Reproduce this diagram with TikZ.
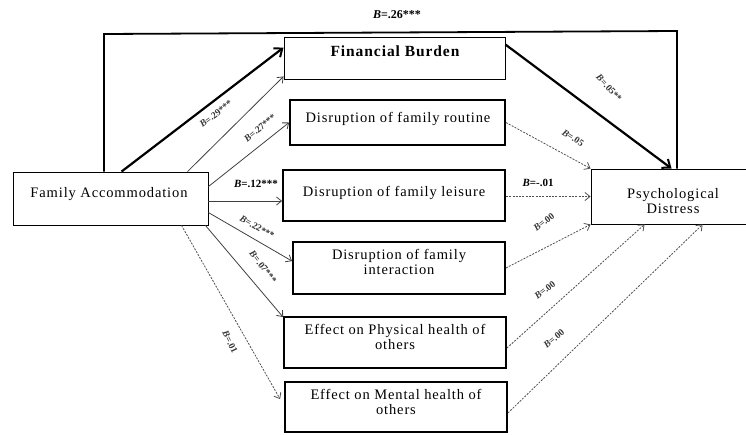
\documentclass[tikz,border=0pt]{standalone}
\usepackage{fontspec}
\setmainfont{Liberation Serif}
\newfontfamily\boxfont{Liberation Serif}[LetterSpace=6]
\usetikzlibrary{arrows.meta}
\definecolor{arrgray}{HTML}{404040}
\definecolor{dashgray}{HTML}{505050}
\definecolor{labgray}{HTML}{333333}
\tikzset{
  thinbox/.style={draw, line width=0.9pt, inner sep=0pt},
  boldbox/.style={draw, line width=1.8pt, inner sep=0pt},
  boxtext/.style={font=\boxfont\fontsize{14.5}{15.5}\selectfont, align=center, inner sep=0pt},
  thickarr/.style={line width=2.2pt, -{Straight Barb[length=7pt,width=11pt,line width=2pt]}},
  thinarr/.style={line width=0.8pt, arrgray, -{Straight Barb[length=5pt,width=8pt]}},
  dasharr/.style={line width=0.8pt, dashgray, dash pattern=on 2pt off 1.3pt, -{Straight Barb[length=5pt,width=8pt,line width=0.8pt]}},
  coef/.style={font=\fontsize{9.5}{10}\selectfont\bfseries, text=labgray, inner sep=0pt},
  coefh/.style={font=\fontsize{11}{12}\selectfont\bfseries, text=black, inner sep=0pt},
  bigline/.style={line width=1.8pt}
}
\newcommand{\bb}{\textit{B}}
\begin{document}
\begin{tikzpicture}[x=1pt,y=-1pt]
\useasboundingbox (0,0) rectangle (746,434);

% boxes
\node[thinbox, minimum width=195pt, minimum height=53pt] (fa) at (110.5,198.5) {};
\node[boxtext] (fat) at (109,194) {Family Accommodation};

\node[thinbox, minimum width=221pt, minimum height=42pt] (fb) at (394.5,58) {};
\node[boxtext, font=\boxfont\fontsize{15.5}{16}\selectfont\bfseries] (fbt) at (395,51) {Financial Burden};

\node[boldbox, minimum width=215pt, minimum height=45pt] (rout) at (397.5,122.5) {};
\node[boxtext] (routt) at (398,119) {Disruption of family routine};

\node[boldbox, minimum width=222pt, minimum height=51pt] (leis) at (394,195.5) {};
\node[boxtext] (leist) at (394,193) {Disruption of family leisure};

\node[boldbox, minimum width=212pt, minimum height=52pt] (inter) at (399,268) {};
\node[boxtext] (intert) at (399,262) {Disruption of family\\interaction};

\node[boldbox, minimum width=222pt, minimum height=51pt] (phys) at (395,342.5) {};
\node[boxtext] (physt) at (395,337) {Effect on Physical health of\\others};

\node[boldbox, minimum width=222pt, minimum height=50pt] (ment) at (396,407) {};
\node[boxtext] (mentt) at (396,402) {Effect on Mental health of\\others};

\node[thinbox, minimum width=160pt, minimum height=55pt] (pd) at (671,196.5) {};
\node[boxtext] (pdt) at (673,201) {Psychological\\Distress};

% big direct path
\coordinate (tl) at (104,34);
\coordinate (tr) at (677,31);
\draw[bigline] (tl |- fa.north) -- (tl) -- (tr) -- (tr |- pd.north);

% arrows from family accommodation
\draw[thickarr] ([xshift=109pt]fa.north west) -- ([yshift=-11pt]fb.north west);
\draw[thinarr] ([xshift=175pt]fa.north west) -- ([yshift=3pt]fb.south west);
\draw[thinarr] ([yshift=-15pt]fa.north east) -- (rout.west);
\coordinate (lein) at ([yshift=-5.5pt]leis.west);
\draw[thinarr] (lein -| fa.east) -- (lein);
\draw[thinarr] ([yshift=-41pt]fa.north east) -- ([yshift=-20pt]inter.north west);
\draw[thinarr] ([xshift=-3pt]fa.south east) -- ([yshift=-1pt]phys.north west);
\draw[dasharr] ([xshift=169pt]fa.south west) -- ([yshift=-18pt,xshift=-4pt]ment.north west);

% arrows to psychological distress
\draw[thickarr] ([yshift=-8pt]fb.north east) -- ([xshift=81pt]pd.north west);
\draw[dasharr] (rout.east) -- (pd.north west);
\draw[dasharr] (leis.east |- pd.west) -- (pd.west);
\draw[dasharr] (inter.east) -- (pd.south west);
\draw[dasharr] ([yshift=-5.5pt]phys.east) -- ([xshift=54pt]pd.south west);
\draw[dasharr] ([yshift=-6pt]ment.east) -- ([xshift=112pt]pd.south west);

% coefficients
\node[coefh, font=\fontsize{12}{13}\selectfont\bfseries] (c26) at (397,15) {\bb=.26***};
\node[coef, rotate=37] (c29) at (216,114) {\bb=.29***};
\node[coef, rotate=40] (c27) at (260,128) {\bb=.27***};
\node[coefh] (c12) at (256,184) {\bb=.12***};
\node[coef, rotate=-30] (c22) at (257,227) {\bb=.22***};
\node[coef, rotate=-52] (c07) at (263,267) {\bb=.07***};
\node[coef, rotate=-64] (c01) at (230,342) {\bb=.01};
\node[coef, rotate=-48] (c05s) at (609,88) {\bb=.05**};
\node[coef, rotate=-33] (c05) at (573,138) {\bb=.05};
\node[coefh] (cm01) at (538,183) {\bb=-.01};
\node[coef, rotate=38] (c00a) at (544,222) {\bb=.00};
\node[coef, rotate=38] (c00b) at (545,290) {\bb=.00};
\node[coef, rotate=40] (c00c) at (554,339) {\bb=.00};
\end{tikzpicture}
\end{document}
